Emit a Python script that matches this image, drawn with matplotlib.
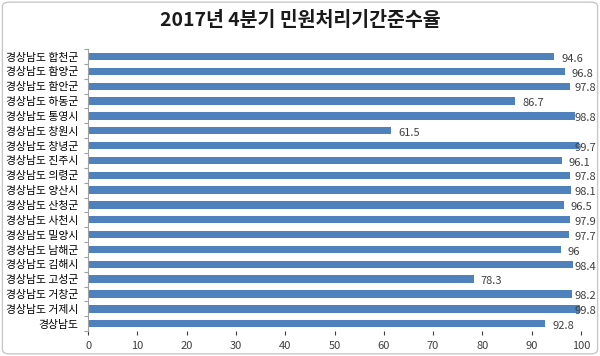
import matplotlib
matplotlib.use("Agg")
from matplotlib import pyplot as plt
from matplotlib.patches import FancyBboxPatch
import numpy as np

plt.rcParams['font.family'] = ['Noto Sans CJK KR', 'DejaVu Sans']

# 위에서 아래 순서
regions = ['경상남도 합천군', '경상남도 함양군', '경상남도 함안군', '경상남도 하동군',
           '경상남도 통영시', '경상남도 창원시', '경상남도 창녕군', '경상남도 진주시',
           '경상남도 의령군', '경상남도 양산시', '경상남도 산청군', '경상남도 사천시',
           '경상남도 밀양시', '경상남도 남해군', '경상남도 김해시', '경상남도 고성군',
           '경상남도 거창군', '경상남도 거제시', '경상남도']
rates = [94.6, 96.8, 97.8, 86.7, 98.8, 61.5, 99.7, 96.1, 97.8, 98.1,
         96.5, 97.9, 97.7, 96, 98.4, 78.3, 98.2, 99.8, 92.8]
value_labels = ['94.6', '96.8', '97.8', '86.7', '98.8', '61.5', '99.7', '96.1', '97.8', '98.1',
                '96.5', '97.9', '97.7', '96', '98.4', '78.3', '98.2', '99.8', '92.8']
xticks = [0, 10, 20, 30, 40, 50, 60, 70, 80, 90, 100]

BAR = '#4F81BD'
TXT = '#404040'

fig = plt.figure(figsize=(6, 3.56), dpi=100)
# 바깥 테두리
fig.patches.append(FancyBboxPatch((0.004, 0.006), 0.992, 0.988,
                                  boxstyle='round,pad=0,rounding_size=0.012',
                                  transform=fig.transFigure, fill=False,
                                  edgecolor='#c8c8c8', linewidth=1.0))

ax = fig.add_axes([0.147, 0.070, 0.821, 0.792])
n = len(regions)
ypos = np.arange(n)
ax.barh(ypos, rates, height=0.5, color=BAR, edgecolor='none')
ax.set_ylim(n - 0.5, -0.5)
ax.set_xlim(0, 100)

# 라벨이 차트 밖으로 나가지 않게 위치 제한
for y, v, s in zip(ypos, rates, value_labels):
    ax.text(min(v + 1.4, 98.8), y + 0.15, s, va='center', ha='left',
            fontsize=8, color=TXT, clip_on=False)

ax.set_yticks(ypos)
ax.set_yticklabels(regions, fontsize=7.8, color='black')
ax.tick_params(axis='y', which='major', length=0, pad=7)
ax.set_yticks(np.arange(n + 1) - 0.5, minor=True)
ax.tick_params(axis='y', which='minor', length=3, color='#a0a0a0', width=0.8)

ax.set_xticks(xticks)
ax.tick_params(axis='x', labelsize=8, colors=TXT, length=3, width=0.8, pad=4)
for t in ax.xaxis.get_ticklines():
    t.set_color('#c0c0c0')

for side in ['top', 'right', 'bottom']:
    ax.spines[side].set_visible(False)
ax.spines['left'].set_color('#a0a0a0')
ax.spines['left'].set_linewidth(0.8)

fig.text(0.5, 0.942, '2017년 4분기 민원처리기간준수율', ha='center', va='center',
         fontsize=14, fontweight='bold', color='#1a1a1a')

fig.savefig('out.png', dpi=100)
